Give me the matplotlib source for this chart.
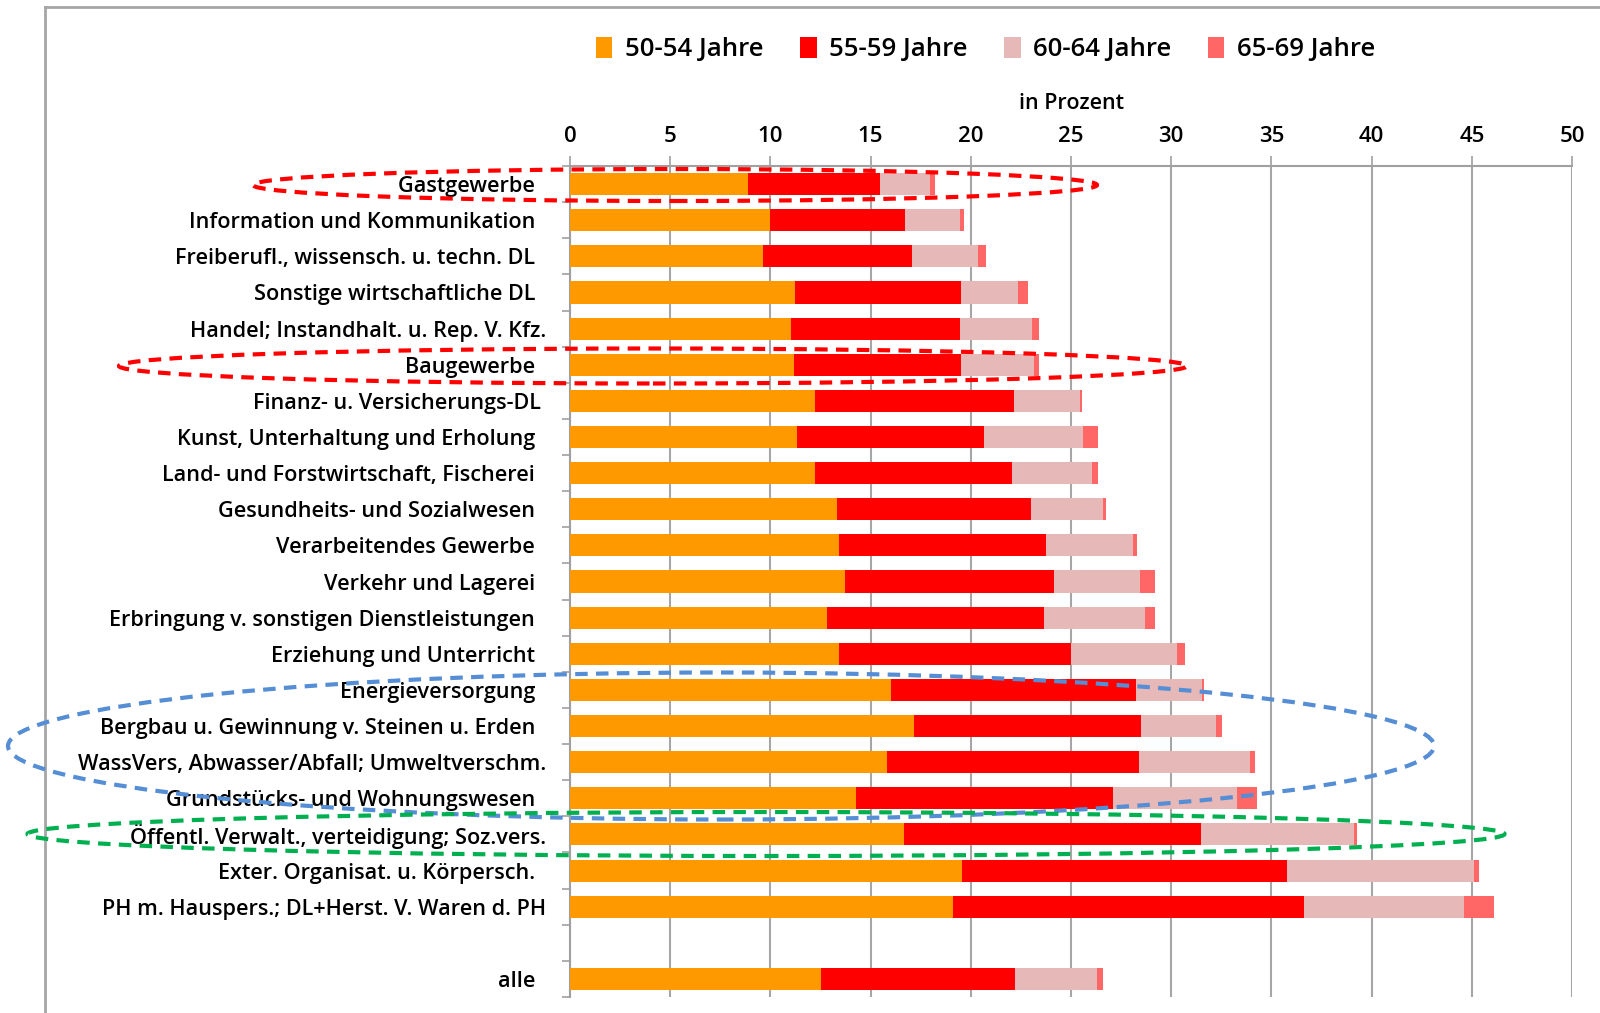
import matplotlib
matplotlib.use("Agg")
import matplotlib.pyplot as plt
import numpy as np
from matplotlib.patches import Ellipse, Patch
from matplotlib.lines import Line2D

plt.rcParams['font.family'] = ['Open Sans', 'DejaVu Sans']

branches = [
    "Gastgewerbe  ",
    "Information und Kommunikation  ",
    "Freiberufl., wissensch. u. techn. DL  ",
    "Sonstige wirtschaftliche DL  ",
    "Handel; Instandhalt. u. Rep. V. Kfz.",
    "Baugewerbe  ",
    "Finanz- u. Versicherungs-DL ",
    "Kunst, Unterhaltung und Erholung  ",
    "Land- und Forstwirtschaft, Fischerei  ",
    "Gesundheits- und Sozialwesen  ",
    "Verarbeitendes Gewerbe  ",
    "Verkehr und Lagerei  ",
    "Erbringung v. sonstigen Dienstleistungen  ",
    "Erziehung und Unterricht  ",
    "Energieversorgung  ",
    "Bergbau u. Gewinnung v. Steinen u. Erden  ",
    "WassVers, Abwasser/Abfall; Umweltverschm.",
    "Grundstücks- und Wohnungswesen  ",
    "Öffentl. Verwalt., verteidigung; Soz.vers.",
    "Exter. Organisat. u. Körpersch.  ",
    "PH m. Hauspers.; DL+Herst. V. Waren d. PH",
    "alle  ",
]

age_50_54 = [8.86, 9.96, 9.61, 11.24, 11.05, 11.17, 12.24, 11.35, 12.22, 13.34, 13.42,
             13.74, 12.82, 13.42, 16.02, 17.17, 15.80, 14.28, 16.69, 19.58, 19.10, 12.51]
age_55_59 = [6.60, 6.78, 7.43, 8.29, 8.41, 8.36, 9.92, 9.32, 9.83, 9.65, 10.33,
             10.41, 10.84, 11.56, 12.20, 11.32, 12.57, 12.81, 14.79, 16.20, 17.51, 9.67]
age_60_64 = [2.50, 2.72, 3.31, 2.81, 3.59, 3.63, 3.29, 4.91, 4.00, 3.59, 4.35,
             4.30, 5.02, 5.33, 3.32, 3.72, 5.55, 6.19, 7.66, 9.31, 7.99, 4.12]
age_65_69 = [0.27, 0.18, 0.39, 0.50, 0.36, 0.25, 0.11, 0.76, 0.29, 0.18, 0.18,
             0.72, 0.49, 0.37, 0.08, 0.31, 0.28, 1.01, 0.15, 0.27, 1.50, 0.27]

series_labels = ["50-54 Jahre", "55-59 Jahre", "60-64 Jahre", "65-69 Jahre"]
colors = ["#FF9900", "#FF0000", "#E6B9B8", "#FF6666"]

# empty slot before "alle"
pos = np.array(list(range(len(branches) - 1)) + [len(branches)])

fig = plt.figure(figsize=(16, 10.13), dpi=100)
ax = fig.add_axes([0.35625, 0.0158, 0.6263, 0.8203])

left = np.zeros(len(branches))
for vals, col in zip([age_50_54, age_55_59, age_60_64, age_65_69], colors):
    vals = np.array(vals)
    ax.barh(pos, vals, left=left, height=0.61, color=col, zorder=3)
    left += vals

ax.set_xlim(0, 50)
ax.set_ylim(pos[-1] + 0.5, -0.5)
ax.set_xticks(np.arange(0, 51, 5))
ax.xaxis.tick_top()
ax.xaxis.set_label_position('top')
ax.set_xlabel("in Prozent", fontsize=15.5, fontweight='semibold', labelpad=12)
ax.tick_params(axis='x', length=7, color='#A0A0A0', width=1.2, pad=7,
               labelsize=16, labelcolor='black')
for t in ax.get_xticklabels():
    t.set_fontweight('semibold')

ax.set_yticks(pos)
ax.set_yticklabels(branches, fontsize=15.6, fontweight='semibold')
ax.set_yticks(np.arange(-0.5, pos[-1] + 1, 1), minor=True)
ax.tick_params(axis='y', which='major', length=0, pad=17)
ax.tick_params(axis='y', which='minor', length=6, color='#A0A0A0', width=1.2)

ax.grid(axis='x', color='#A6A6A6', linewidth=1.5, zorder=0)
for s in ['right', 'bottom']:
    ax.spines[s].set_visible(False)
for s in ['top', 'left']:
    ax.spines[s].set_color('#A0A0A0')
    ax.spines[s].set_linewidth(1.5)

handles = [Patch(facecolor=c, edgecolor='none') for c in colors]
fig.legend(handles, series_labels, loc='center', bbox_to_anchor=(0.616, 0.951),
           ncol=4, frameon=False, handlelength=0.65, handleheight=0.85,
           handletextpad=0.5, columnspacing=1.4, prop={'weight': 'semibold', 'size': 18.5})

# outer chart frame (cropped)
fig.add_artist(Line2D([45 / 1600, 1], [1 - 7 / 1013, 1 - 7 / 1013], color='#A6A6A6', lw=2))
fig.add_artist(Line2D([45 / 1600, 45 / 1600], [0, 1 - 7 / 1013], color='#A6A6A6', lw=2))

# highlight ellipses (pixel coords -> figure fraction)
W, H = 1600, 1013
ellipses = [
    (675, 185, 844, 32, '#FF0000'),
    (653, 366, 1068, 35, '#FF0000'),
    (721, 746, 1426, 147, '#558ED5'),
    (766, 834, 1477, 44, '#00B050'),
]
for cx, cy, w, h, c in ellipses:
    e = Ellipse((cx / W, 1 - cy / H), w / W, h / H, transform=fig.transFigure,
                fill=False, edgecolor=c, linewidth=3, linestyle=(0, (3, 2)), zorder=10)
    fig.add_artist(e)

fig.savefig("out.png", dpi=100)
